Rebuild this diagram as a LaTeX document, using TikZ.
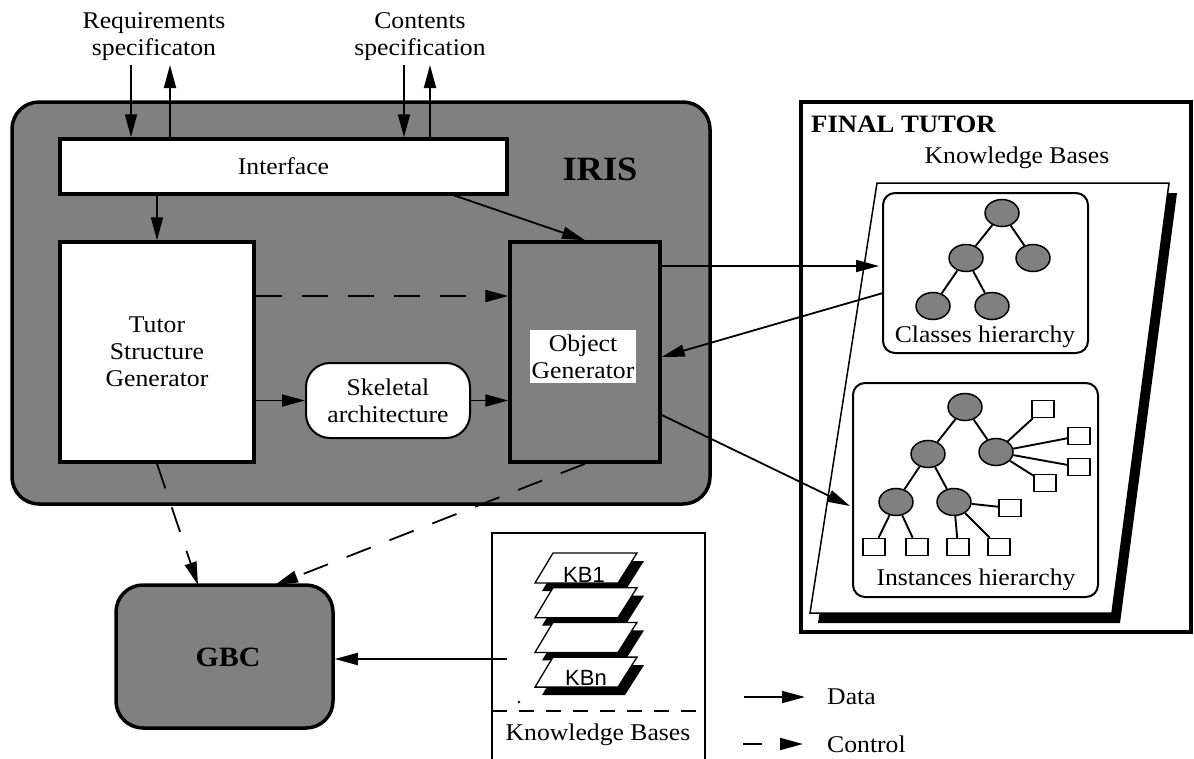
\documentclass[tikz,border=0pt]{standalone}
\usepackage{fontspec}
\setmainfont{Liberation Serif}[FakeStretch=1.07]
\newfontfamily\kbfont{Liberation Sans}
\usetikzlibrary{arrows.meta,shapes.geometric}
\definecolor{irisgray}{RGB}{128,128,128}
\newcommand\ftxt{\fontsize{24}{27}\selectfont}
\begin{document}
\begin{tikzpicture}[x=1pt,y=-1pt,
  txt/.style={font=\ftxt, align=center, inner sep=0pt},
  bigbox/.style={draw, line width=3.5pt, fill=irisgray, rounded corners=27pt, inner sep=0pt},
  whitebox/.style={draw, line width=3.5pt, fill=white, inner sep=0pt, font=\ftxt, align=center},
  data/.style={line width=1.8pt, -{Triangle[length=23pt,width=12pt]}},
  ctrl/.style={data, dash pattern=on 26pt off 20pt},
  ell/.style={ellipse, draw, line width=1.5pt, fill=irisgray, minimum width=34pt, minimum height=27pt, inner sep=0pt},
  sq/.style={rectangle, draw, line width=1.5pt, fill=white, minimum width=22pt, minimum height=17pt, inner sep=0pt},
  edge/.style={line width=1.9pt},
  hbox/.style={draw, line width=2pt, fill=white, rounded corners=12pt},
  plane/.style={draw, line width=1.3pt, fill=white, line join=miter},
  kbtxt/.style={font=\kbfont\fontsize{22}{24}\selectfont, inner sep=0pt},
]
\useasboundingbox (0,0) rectangle (1194,758);

% ---------- IRIS ----------
\node[bigbox, minimum width=698pt, minimum height=402pt] (iris) at (361,303) {};
\node[txt, font=\fontsize{34}{36}\selectfont\bfseries] (irislbl) at (600,169) {IRIS};
\node[whitebox, minimum width=447pt, minimum height=55pt] (interface) at (283.5,166.5) {Interface};
\node[whitebox, minimum width=194pt, minimum height=220pt] (tsg) at (157,352) {Tutor\\Structure\\Generator};
\node[draw, line width=3.5pt, fill=irisgray, minimum width=150pt, minimum height=220pt, inner sep=0pt] (og) at (585,352) {};
\node[txt, fill=white, minimum width=106pt, minimum height=53pt] (oglbl) at (583,356.5) {Object\\Generator};
\node[draw, line width=2pt, fill=white, rounded corners=24pt, minimum width=164pt, minimum height=75pt, inner sep=0pt, font=\ftxt, align=center] (skel) at (388,400.5) {Skeletal\\architecture};

% top texts
\node[txt] (req) at (154,36.5) {Requirements\\specificaton};
\node[txt] (cont) at (420,36.5) {Contents\\specification};
\coordinate (reqin) at (131,65);
\coordinate (reqout) at (170,65);
\coordinate (contin) at (404,65);
\coordinate (contout) at (430,65);
\draw[data] (reqin) -- (reqin |- interface.north);
\draw[data] (reqout |- interface.north) -- (reqout);
\draw[data] (contin) -- (contin |- interface.north);
\draw[data] (contout |- interface.north) -- (contout);

% inner connectors
\draw[data] (tsg.north |- interface.south) -- (tsg.north);
\coordinate (ifo) at (450,194);
\draw[data] (ifo) -- (og.north);
\coordinate (ctl) at (0,296);
\draw[ctrl] (tsg.east |- ctl) -- (og.west |- ctl);
\draw[data] (tsg.east |- skel.west) -- (skel.west);
\draw[data] (skel.east) -- (og.west |- skel.east);

% ---------- GBC ----------
\node[bigbox, minimum width=217pt, minimum height=143pt] (gbc) at (224.5,656.5) {};
\node[txt, font=\fontsize{28}{30}\selectfont\bfseries] (gbclbl) at (228,657) {GBC};
\coordinate (gbcA) at (198,585);
\coordinate (gbcB) at (275,585);
\draw[ctrl] (tsg.south) -- (gbcA);
\draw[ctrl] (og.south) -- (gbcB);

% ---------- Knowledge bases (bottom) ----------
\draw[line width=1.5pt] (492,760) -- (492,533) -- (705,533) -- (705,760);
\draw[line width=1.5pt, dash pattern=on 15pt off 12pt] (492,711) -- (705,711);
\node[txt] (kblbl) at (598,735) {Knowledge Bases};
\foreach \t in {553,587.7,622.4,657.1}{
  \fill[black] (560,\t+8) -- ++(84,0) -- ++(-19,30) -- ++(-83,0) -- cycle;
  \path[plane] (553,\t) -- ++(84,0) -- ++(-19,30) -- ++(-83,0) -- cycle;
}
\node[kbtxt] (kb1) at (584,575) {KB1};
\node[kbtxt] (kbn) at (586,678) {KBn};
\fill (519,702) circle (1.3pt);
\coordinate (kbsrc) at (507,659);
\draw[data] (kbsrc) -- (gbc.east |- kbsrc);

% ---------- FINAL TUTOR ----------
\draw[line width=4pt] (801,102) rectangle (1191,632);
\node[txt, font=\fontsize{25}{27}\selectfont\bfseries, anchor=west] (ftlbl) at (811,124) {FINAL TUTOR};
\node[txt] (kbtop) at (1017,158) {Knowledge Bases};
\fill[black] (885,193) -- (1177,193) -- (1120,623) -- (818,623) -- cycle;
\path[plane, line width=1.5pt] (877,183) -- (1169,183) -- (1112,613) -- (810,613) -- cycle;

% classes hierarchy
\draw[hbox] (883,193) rectangle (1088,353);
\node[ell] (c0) at (1002,213) {};
\node[ell] (c1) at (966,258) {};
\node[ell] (c2) at (1033,258) {};
\node[ell] (c3) at (933,306) {};
\node[ell] (c4) at (992,306) {};
\draw[edge] (c0) -- (c1) (c0) -- (c2) (c1) -- (c3) (c1) -- (c4);
\node[txt] (clbl) at (985,337) {Classes hierarchy};

% instances hierarchy
\draw[hbox] (853,383) rectangle (1098,597);
\node[ell] (i0) at (965,407) {};
\node[ell] (i1) at (928,454) {};
\node[ell] (i2) at (996,452) {};
\node[ell] (i3) at (896,502) {};
\node[ell] (i4) at (954,502) {};
\node[sq] (s1) at (1043,409) {};
\node[sq] (s2) at (1079,436) {};
\node[sq] (s3) at (1079,467) {};
\node[sq] (s4) at (1045,483) {};
\node[sq] (s5) at (1010,508) {};
\node[sq] (b1) at (874,547) {};
\node[sq] (b2) at (917,547) {};
\node[sq] (b3) at (958,547) {};
\node[sq] (b4) at (999,547) {};
\draw[edge] (i0) -- (i1) (i0) -- (i2) (i1) -- (i3) (i1) -- (i4)
  (i2) -- (s1) (i2) -- (s2) (i2) -- (s3) (i2) -- (s4)
  (i4) -- (s5) (i3) -- (b1) (i3) -- (b2) (i4) -- (b3) (i4) -- (b4);
\node[txt] (ilbl) at (976,580) {Instances hierarchy};

% connectors with the final tutor
\coordinate (toc) at (879,266);
\coordinate (fromc) at (883,293);
\coordinate (ogin) at (0,357);
\coordinate (ogout1) at (0,266);
\coordinate (ogout2) at (0,415);
\coordinate (toi) at (850,506);
\draw[data] (og.east |- ogout1) -- (toc);
\draw[data] (fromc) -- (og.east |- ogin);
\draw[data] (og.east |- ogout2) -- (toi);

% ---------- Legend ----------
\coordinate (da) at (744,697);
\coordinate (db) at (805,697);
\draw[data] (da) -- (db);
\node[txt, anchor=west] (datalbl) at (827,697) {Data};
\coordinate (ca) at (743,744);
\coordinate (cb) at (803,744);
\draw[data, dash pattern=on 19pt off 40pt] (ca) -- (cb);
\node[txt, anchor=west] (ctrllbl) at (827,744) {Control};
\end{tikzpicture}
\end{document}
